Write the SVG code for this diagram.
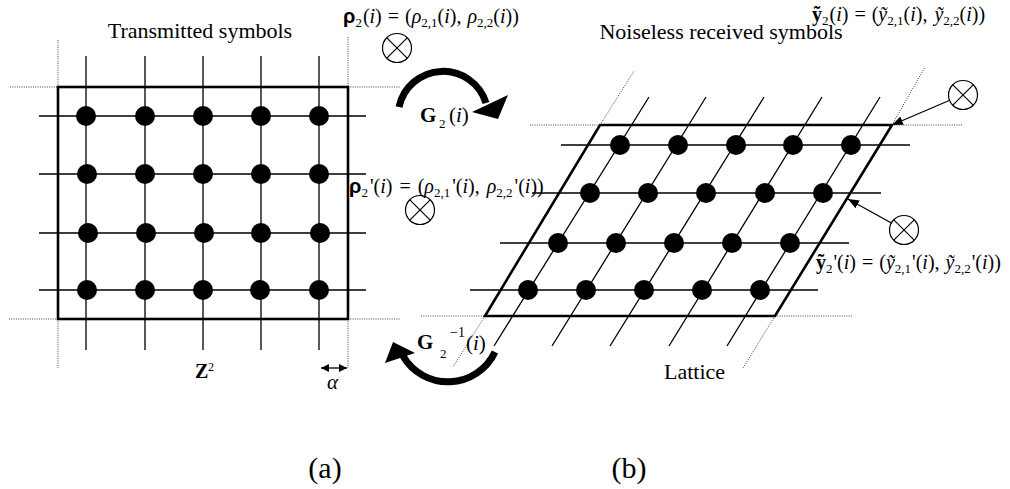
<svg xmlns="http://www.w3.org/2000/svg" width="1010" height="489" viewBox="0 0 1010 489">
<style>
.grid{stroke:#000;stroke-width:1.3;fill:none}
.frame{fill:none;stroke:#000;stroke-width:2.6}
.dotted{stroke:#444;stroke-width:1;stroke-dasharray:1 1.3;fill:none}
.dot{fill:#000}
.t{font-family:"Liberation Serif","Times New Roman",serif;fill:#000}
.m{font-family:"Liberation Serif","Times New Roman",serif;font-size:20px;fill:#000}
.b{font-weight:bold}
.bs{font-family:"Liberation Sans",Arial,sans-serif;font-weight:bold}
.it{font-style:italic}
.sub{font-size:13px}
.ox{fill:#fff;stroke:#000;stroke-width:1.2}
.arc{fill:none;stroke:#000;stroke-width:7}
.conn{stroke:#000;stroke-width:1.3;fill:none}
</style>
<defs>
<marker id="ah" viewBox="0 0 11 9" refX="11" refY="4.5" markerWidth="11" markerHeight="9" markerUnits="userSpaceOnUse" orient="auto">
<path d="M0,0 L11,4.5 L0,9 z" fill="#000"/>
</marker>
<marker id="ahs" viewBox="0 0 8 8" refX="8" refY="4" markerWidth="8" markerHeight="8" markerUnits="userSpaceOnUse" orient="auto-start-reverse">
<path d="M0,0 L8,4 L0,8 z" fill="#000"/>
</marker>
<g id="otimes">
<circle cx="0" cy="0" r="14.5" class="ox"/>
<path d="M-10.2,-10.2 L10.2,10.2 M-10.2,10.2 L10.2,-10.2" stroke="#000" stroke-width="1.2"/>
</g>
</defs>
<rect width="1010" height="489" fill="#fff"/>

<!-- Left panel: Z^2 lattice -->
<g id="left-lattice">
<path class="dotted" d="M10,87 H58 M348,87 H400 M9,319 H58 M348,319 H400 M58,40 V87 M348,37 V87 M58,319 V368 M348,319 V368"/>
<path class="grid" d="M86,56 V350 M145,56 V350 M203,56 V350 M261,56 V350 M319,56 V350 M39,116 H366 M39,174 H366 M39,233 H366 M39,290 H366"/>
<rect class="frame" x="58" y="87" width="290" height="232"/>
<g class="dot">
<circle cx="86" cy="116" r="10"/><circle cx="145" cy="116" r="10"/><circle cx="203" cy="116" r="10"/><circle cx="261" cy="116" r="10"/><circle cx="319" cy="116" r="10"/>
<circle cx="87" cy="174" r="10"/><circle cx="145" cy="174" r="10"/><circle cx="203" cy="174" r="10"/><circle cx="261" cy="174" r="10"/><circle cx="319" cy="174" r="10"/>
<circle cx="88" cy="233" r="10"/><circle cx="146" cy="233" r="10"/><circle cx="204" cy="233" r="10"/><circle cx="261" cy="233" r="10"/><circle cx="320" cy="233" r="10"/>
<circle cx="87" cy="290" r="10"/><circle cx="145" cy="290" r="10"/><circle cx="203" cy="290" r="10"/><circle cx="260" cy="290" r="10"/><circle cx="319" cy="290" r="10"/>
</g>
</g>

<!-- Right panel: sheared lattice -->
<g id="right-lattice">
<path class="dotted" d="M530,125 H600 M892,125 H963 M421,316 H485 M775,316 H853 M600,125 L634,71 M892,125 L925,67 M485,316 L453,367 M775,316 L743,368"/>
<path class="grid" d="M561,145 H910 M532,193 H881 M500,243 H849 M470,290 H818 M494,346 L649,97 M552,346 L706,97 M610,346 L764,97 M669,346 L822,97 M727,346 L880,97"/>
<polygon class="frame" points="600,125 892,125 775,316 485,316"/>
<g class="dot">
<circle cx="620" cy="145" r="10"/><circle cx="678" cy="145" r="10"/><circle cx="736" cy="145" r="10"/><circle cx="793" cy="145" r="10"/><circle cx="851" cy="145" r="10"/>
<circle cx="590" cy="193" r="10"/><circle cx="648" cy="193" r="10"/><circle cx="706" cy="193" r="10"/><circle cx="765" cy="193" r="10"/><circle cx="823" cy="193" r="10"/>
<circle cx="558" cy="243" r="10"/><circle cx="616" cy="243" r="10"/><circle cx="674" cy="243" r="10"/><circle cx="732" cy="243" r="10"/><circle cx="790" cy="243" r="10"/>
<circle cx="528" cy="290" r="10"/><circle cx="586" cy="290" r="10"/><circle cx="644" cy="290" r="10"/><circle cx="702" cy="290" r="10"/><circle cx="760" cy="290" r="10"/>
</g>
</g>

<!-- Connectors -->
<g id="connectors">
<path class="arc" d="M399,107 A45,45 0 0 1 486,103"/>
<polygon points="472,112 508,95 498,119" fill="#000"/>
<path class="arc" d="M495,352 A52,52 0 0 1 403,356"/>
<polygon points="385,363 393,342 415,353" fill="#000"/>
<line class="conn" x1="962" y1="95" x2="892" y2="125" marker-end="url(#ah)"/>
<line class="conn" x1="904" y1="230" x2="848" y2="199" marker-end="url(#ah)"/>
<line class="conn" x1="321" y1="368" x2="347" y2="368" marker-start="url(#ahs)" marker-end="url(#ahs)"/>
</g>

<!-- Symbol nodes -->
<g id="rho-node"><use href="#otimes" x="397" y="48"/></g>
<g id="rho-prime-node"><use href="#otimes" x="420" y="210"/></g>
<g id="y-node"><use href="#otimes" x="963" y="95"/></g>
<g id="y-prime-node"><use href="#otimes" x="904" y="230"/></g>

<!-- Labels -->
<g id="labels">
<text class="t" x="200" y="38" font-size="22" text-anchor="middle">Transmitted symbols</text>
<text class="t" x="721" y="39" font-size="22" text-anchor="middle">Noiseless received symbols</text>
<text class="t" x="664" y="379" font-size="22">Lattice</text>
<text class="t" x="325" y="478" font-size="30" text-anchor="middle">(a)</text>
<text class="t" x="629" y="478" font-size="30" text-anchor="middle">(b)</text>

<text class="m" x="343" y="23"><tspan class="bs">ρ</tspan><tspan class="sub" dy="4">2</tspan><tspan dy="-4" dx="1">(</tspan><tspan class="it">i</tspan><tspan>) </tspan><tspan dx="1">=</tspan><tspan dx="1"> (</tspan><tspan class="it">ρ</tspan><tspan class="sub" dy="4">2,1</tspan><tspan dy="-4">(</tspan><tspan class="it">i</tspan><tspan>), </tspan><tspan class="it" dx="1">ρ</tspan><tspan class="sub" dy="4">2,2</tspan><tspan dy="-4">(</tspan><tspan class="it">i</tspan><tspan>))</tspan></text>

<text class="m" x="349" y="193"><tspan class="bs">ρ</tspan><tspan class="sub" dy="4">2</tspan><tspan dy="-4" dx="2">'(</tspan><tspan class="it">i</tspan><tspan>) </tspan><tspan dx="2">=</tspan><tspan dx="2"> (</tspan><tspan class="it">ρ</tspan><tspan class="sub" dy="4">2,1</tspan><tspan dy="-4" dx="2">'(</tspan><tspan class="it">i</tspan><tspan>), </tspan><tspan class="it" dx="2">ρ</tspan><tspan class="sub" dy="4">2,2</tspan><tspan dy="-4" dx="2">'(</tspan><tspan class="it">i</tspan><tspan>))</tspan></text>

<text class="m" x="812" y="21"><tspan class="b">ỹ</tspan><tspan class="sub" dy="4">2</tspan><tspan dy="-4" dx="1">(</tspan><tspan class="it">i</tspan><tspan>) </tspan><tspan dx="1">=</tspan><tspan dx="1"> (</tspan><tspan class="it">ỹ</tspan><tspan class="sub" dy="4">2,1</tspan><tspan dy="-4">(</tspan><tspan class="it">i</tspan><tspan>), </tspan><tspan class="it" dx="2">ỹ</tspan><tspan class="sub" dy="4">2,2</tspan><tspan dy="-4">(</tspan><tspan class="it">i</tspan><tspan>))</tspan></text>

<text class="m" x="816" y="269"><tspan class="b">ỹ</tspan><tspan class="sub" dy="4">2</tspan><tspan dy="-4" dx="1">'(</tspan><tspan class="it">i</tspan><tspan>) </tspan><tspan dx="1">=</tspan><tspan dx="1"> (</tspan><tspan class="it">ỹ</tspan><tspan class="sub" dy="4">2,1</tspan><tspan dy="-4" dx="1">'(</tspan><tspan class="it">i</tspan><tspan>), </tspan><tspan class="it" dx="1">ỹ</tspan><tspan class="sub" dy="4">2,2</tspan><tspan dy="-4" dx="1">'(</tspan><tspan class="it">i</tspan><tspan>))</tspan></text>

<text class="t" font-size="21"><tspan class="b" x="420" y="122">G</tspan><tspan font-size="13" x="439" y="128">2</tspan><tspan x="449" y="122">(</tspan><tspan class="it">i</tspan><tspan>)</tspan></text>
<text class="t" font-size="21"><tspan class="b" x="417" y="349">G</tspan><tspan font-size="13" x="440" y="358">2</tspan><tspan font-size="14" x="450" y="337">−1</tspan><tspan x="466" y="350">(</tspan><tspan class="it">i</tspan><tspan>)</tspan></text>
<text class="t" font-size="20"><tspan class="b" x="195" y="378">Z</tspan><tspan font-size="12" x="208" y="371">2</tspan></text>
<text class="t it" font-size="21" x="327" y="389">α</text>
</g>
</svg>
